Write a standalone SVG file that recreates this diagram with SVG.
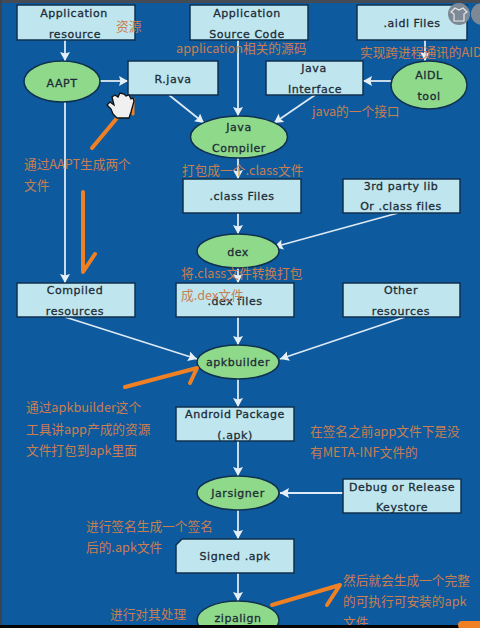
<svg xmlns="http://www.w3.org/2000/svg" width="480" height="628" viewBox="0 0 480 628">
<style>
.b{fill:#bfe6ee;stroke:#10304f;stroke-width:1.5}
.e{fill:#8fd98a;stroke:#10304f;stroke-width:1.5}
.t{font-family:"DejaVu Sans",sans-serif;font-size:11px;letter-spacing:.55px;fill:#1c2c38;text-anchor:middle;stroke:#1c2c38;stroke-width:.3}
.c{font-family:"Noto Sans CJK SC","Noto Sans",sans-serif;font-size:12.7px;fill:#c97e52}
.k line{stroke:#dde9f3;stroke-width:1.8;marker-end:url(#a)}
.o{fill:none;stroke:#f08024;stroke-width:4;stroke-linecap:round;stroke-linejoin:round}
</style>
<defs>
<marker id="a" markerUnits="userSpaceOnUse" markerWidth="10" markerHeight="11" refX="9" refY="5" orient="auto"><path d="M0 0L9 5L0 10L1.500 5Z" fill="#e6eff6"/></marker>
</defs>
<rect width="480" height="628" fill="#0d5a9e"/>
<rect width="480" height="3" fill="#444b55"/>
<rect width="2" height="628" fill="#3a4450"/>
<g id="connectors" class="k">
<line x1="65" y1="40" x2="65" y2="61"/>
<line x1="100" y1="81" x2="128" y2="81"/>
<line x1="169" y1="95" x2="204" y2="123"/>
<line x1="238" y1="40" x2="238" y2="116"/>
<line x1="425" y1="40" x2="425" y2="61"/>
<line x1="391" y1="81" x2="363" y2="81"/>
<line x1="315" y1="95" x2="274" y2="123"/>
<line x1="238" y1="158" x2="238" y2="179"/>
<line x1="238" y1="213" x2="238" y2="234"/>
<line x1="398" y1="213" x2="274" y2="247"/>
<line x1="238" y1="268" x2="238" y2="283"/>
<line x1="65" y1="102" x2="65" y2="283"/>
<line x1="65" y1="317" x2="197" y2="359"/>
<line x1="238" y1="317" x2="238" y2="345"/>
<line x1="405" y1="317" x2="280" y2="359"/>
<line x1="238" y1="379" x2="238" y2="407"/>
<line x1="238" y1="441" x2="238" y2="476"/>
<line x1="343" y1="493" x2="280" y2="493"/>
<line x1="238" y1="510" x2="238" y2="539"/>
<line x1="238" y1="573" x2="238" y2="601"/>
</g>
<g id="app-resource"><rect class="b" x="17" y="5" width="118" height="35"/><text class="t" x="74" y="17">Application</text><text class="t" x="75" y="38">resource</text></g>
<g id="app-source"><rect class="b" x="190" y="5" width="118" height="35"/><text class="t" x="247" y="17">Application</text><text class="t" x="247" y="38">Source Code</text></g>
<g id="aidl-files"><rect class="b" x="357" y="5" width="110" height="35"/><text class="t" x="412" y="27">.aidl Files</text></g>
<g id="aapt"><ellipse class="e" cx="62" cy="81.500" rx="38" ry="20.500"/><text class="t" x="62" y="87">AAPT</text></g>
<g id="r-java"><rect class="b" x="128" y="61" width="90" height="34"/><text class="t" x="173" y="83">R.java</text></g>
<g id="java-interface"><rect class="b" x="266" y="61" width="97" height="34"/><text class="t" x="314" y="72">Java</text><text class="t" x="315" y="93">Interface</text></g>
<g id="aidl-tool"><ellipse class="e" cx="429" cy="85" rx="38" ry="24"/><text class="t" x="429" y="79">AIDL</text><text class="t" x="429" y="100">tool</text></g>
<g id="java-compiler"><ellipse class="e" cx="239" cy="137" rx="48.500" ry="21"/><text class="t" x="239" y="131">Java</text><text class="t" x="239" y="152">Compiler</text></g>
<g id="class-files"><rect class="b" x="183" y="179" width="118" height="34"/><text class="t" x="242" y="200">.class Files</text></g>
<g id="third-party"><rect class="b" x="343" y="179" width="117" height="34"/><text class="t" x="401" y="190">3rd party lib</text><text class="t" x="401" y="210">Or .class files</text></g>
<g id="dex"><ellipse class="e" cx="238" cy="251" rx="41" ry="17"/><text class="t" x="238" y="256">dex</text></g>
<g id="compiled"><rect class="b" x="17" y="283" width="118" height="34"/><text class="t" x="75" y="294">Compiled</text><text class="t" x="75" y="315">resources</text></g>
<g id="dex-files"><rect class="b" x="176" y="283" width="118" height="34"/><text class="t" x="235" y="305">.dex files</text></g>
<g id="other"><rect class="b" x="343" y="283" width="117" height="34"/><text class="t" x="401" y="294">Other</text><text class="t" x="401" y="315">resources</text></g>
<g id="apkbuilder"><ellipse class="e" cx="238" cy="362" rx="41" ry="17"/><text class="t" x="238" y="366">apkbuilder</text></g>
<g id="android-package"><rect class="b" x="176" y="407" width="118" height="34"/><text class="t" x="235" y="418">Android Package</text><text class="t" x="235" y="439">(.apk)</text></g>
<g id="jarsigner"><ellipse class="e" cx="238" cy="493" rx="41" ry="17"/><text class="t" x="238" y="497">Jarsigner</text></g>
<g id="debug"><rect class="b" x="343" y="479" width="118" height="34"/><text class="t" x="402" y="491">Debug or Release</text><text class="t" x="402" y="511">Keystore</text></g>
<g id="signed"><path class="b" d="M182 539H294V573H176V545Z"/><text class="t" x="235" y="560">Signed .apk</text></g>
<g id="zipalign"><ellipse class="e" cx="238" cy="620" rx="41" ry="19"/><text class="t" x="238" y="622">zipalign</text></g>
<path class="o" d="M92 148L117 118"/>
<path class="o" d="M83 192V272L95 254"/>
<path class="o" d="M125 387L197 368L190 383"/>
<path class="o" d="M272 605L340 585L327 605"/>
<path class="o" style="stroke-width:3" d="M133 99V114"/>
<path d="M111 109L107 105L110 102L114 105L112 97L115 95L118 97L120 93L124 94L126 96L129 95L131 99L133 98L134 101L131 112L129 118H117L113 114Z" fill="#f0f0f0" stroke="#111" stroke-width="1.300"/>
<g fill="#7d8a96"><circle cx="459" cy="14" r="11"/><circle cx="482" cy="14" r="11"/></g>
<path d="M455 8L459 10L463 8L467 12L464 14V21H454V14L451 12Z" fill="none" stroke="#e8e8e8" stroke-width="1.200"/>
<g>
<text class="c" x="116" y="31">资源</text>
<text class="c" x="176" y="53">application相关的源码</text>
<text class="c" x="360" y="57">实现跨进程通讯的AIDL</text>
<text class="c" x="312" y="116">java的一个接口</text>
<text class="c" x="24" y="169">通过AAPT生成两个</text>
<text class="c" x="24" y="190">文件</text>
<text class="c" x="182" y="175">打包成一个.class文件</text>
<text class="c" x="181" y="278">将.class文件转换打包</text>
<text class="c" x="181" y="300">成.dex文件</text>
<text class="c" x="26" y="412">通过apkbuilder这个</text>
<text class="c" x="26" y="434">工具讲app产成的资源</text>
<text class="c" x="26" y="455">文件打包到apk里面</text>
<text class="c" x="310" y="436">在签名之前app文件下是没</text>
<text class="c" x="310" y="457">有META-INF文件的</text>
<text class="c" x="86" y="531">进行签名生成一个签名</text>
<text class="c" x="86" y="552">后的.apk文件</text>
<text class="c" x="110" y="619">进行对其处理</text>
<text class="c" x="343" y="585">然后就会生成一个完整</text>
<text class="c" x="343" y="606">的可执行可安装的apk</text>
<text class="c" x="343" y="627">文件</text>
</g>
<rect x="0" y="625" width="480" height="3" fill="#050505"/>
<rect x="458" y="621" width="30" height="8" rx="4" fill="#f08024"/>
</svg>
